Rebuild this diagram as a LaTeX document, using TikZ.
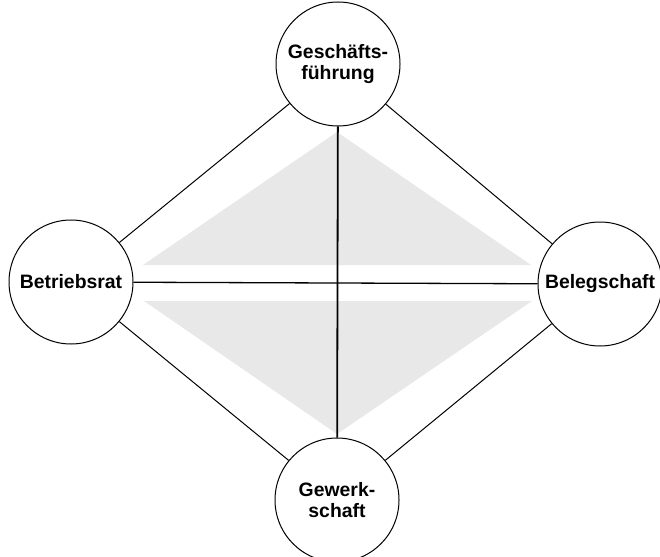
\documentclass[tikz,border=0pt]{standalone}
\usepackage{fontspec}
\setmainfont{Liberation Sans}
\usepackage{tikz}
\tikzset{
    party/.style={circle,draw,line width=1pt,minimum size=124,inner sep=0pt,align=center,font=\fontsize{19.4}{21}\selectfont\bfseries},
    link/.style={line width=1pt},
    cross/.style={line width=1.3pt},
    axis/.style={line width=1.8pt},
    wedge/.style={fill=black!9,draw=none},
}

\begin{document}
\begin{tikzpicture}[x=1pt,y=-1pt]
		\useasboundingbox (0,0) rectangle (660,556);
	
		\fill[wedge] (337,132) -- (143,265) -- (531,265) -- cycle;
		\fill[wedge] (144,301) -- (532,301) -- (337,434) -- cycle;
	
		\node[party] (gf) at (338,64) {Geschäfts-\\führung};
		\node[party] (br) at (71,282) {Betriebsrat};
		\node[party] (bs) at (600,284) {Belegschaft};
		\node[party] (gw) at (337,500) {Gewerk-\\schaft};
	
		\draw[link] (br) -- (gf);
		\draw[link] (gf) -- (bs);
		\draw[link] (br) -- (gw);
		\draw[link] (gw) -- (bs);
		\draw[cross] (br) -- (bs);
		\draw[axis] (gf) -- (gw);
	\end{tikzpicture}
\end{document}
